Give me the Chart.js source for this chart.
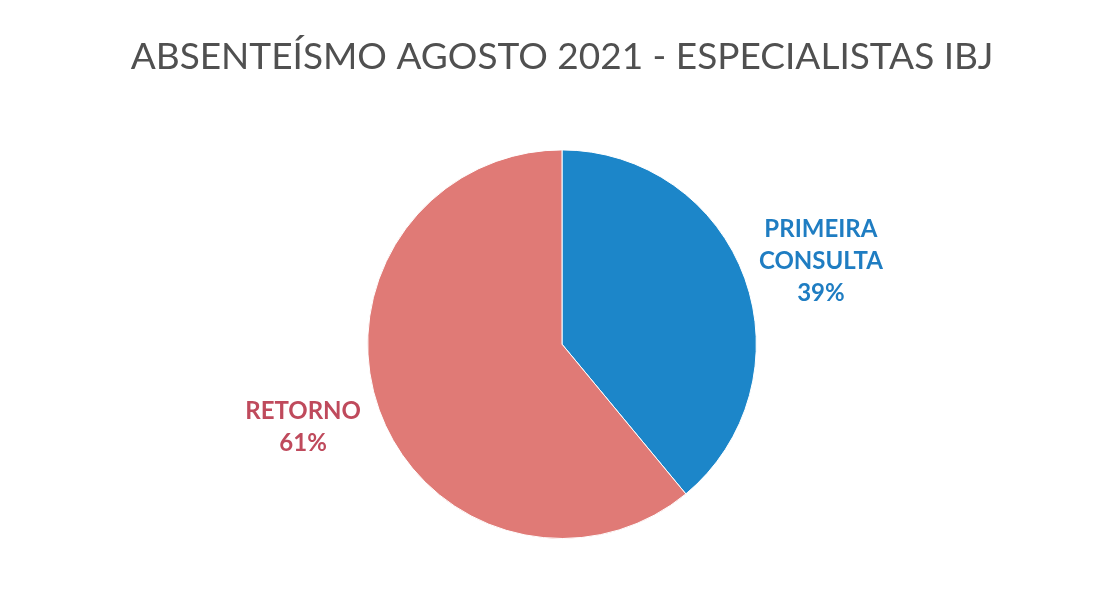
<!DOCTYPE html>
<html>
<head>
<meta charset="utf-8">
<script src="https://cdn.jsdelivr.net/npm/chart.js@4/dist/chart.umd.min.js"></script>
<style>
  html, body { margin: 0; padding: 0; background: #fff; }
  #wrap { width: 1104px; height: 597px; }
</style>
</head>
<body>
<div id="wrap"><canvas id="absent_chart"></canvas></div>
<script>
const categories = [["PRIMEIRA", "CONSULTA"], ["RETORNO"]];
const percents = [39, 61];
const sliceColors = ["#1c86c9", "#e07a76"];
const labelColors = ["#1f7dc2", "#bf4a5c"];

// rótulos fora da fatia, perto do ângulo médio
const outsideLabels = {
  id: "outsideLabels",
  afterDatasetsDraw(chart) {
    const ctx = chart.ctx;
    const meta = chart.getDatasetMeta(0);
    meta.data.forEach((arc, i) => {
      const p = arc.getProps(["x", "y", "startAngle", "endAngle", "outerRadius"], true);
      const mid = (p.startAngle + p.endAngle) / 2 + 0.034;
      const dist = p.outerRadius * 1.4;
      const cx = p.x + Math.cos(mid) * dist;
      const cy = p.y + Math.sin(mid) * dist;
      const lines = [...categories[i], percents[i] + "%"];
      const lh = 32;
      ctx.save();
      ctx.font = "bold 24px Lato";
      ctx.fillStyle = labelColors[i];
      ctx.textAlign = "center";
      ctx.textBaseline = "middle";
      const top = cy - ((lines.length - 1) * lh) / 2;
      lines.forEach((t, k) => ctx.fillText(t, cx, top + k * lh));
      ctx.restore();
    });
  },
};

new Chart(document.getElementById("absent_chart"), {
  type: "pie",
  data: {
    labels: categories.map((c) => c.join(" ")),
    datasets: [
      {
        data: percents,
        backgroundColor: sliceColors,
        borderColor: "#ffffff",
        borderWidth: 1,
      },
    ],
  },
  options: {
    responsive: true,
    maintainAspectRatio: false,
    animation: false,
    layout: {
      padding: { top: 0, bottom: 58, left: 20, right: 0 },
    },
    plugins: {
      legend: { display: false },
      tooltip: { enabled: false },
      title: {
        display: true,
        text: "ABSENTEÍSMO AGOSTO 2021 - ESPECIALISTAS IBJ",
        color: "#505050",
        font: { family: "Lato", size: 37, weight: "normal" },
        padding: { top: 35, bottom: 70 },
      },
    },
  },
  plugins: [outsideLabels],
});
</script>
</body>
</html>
